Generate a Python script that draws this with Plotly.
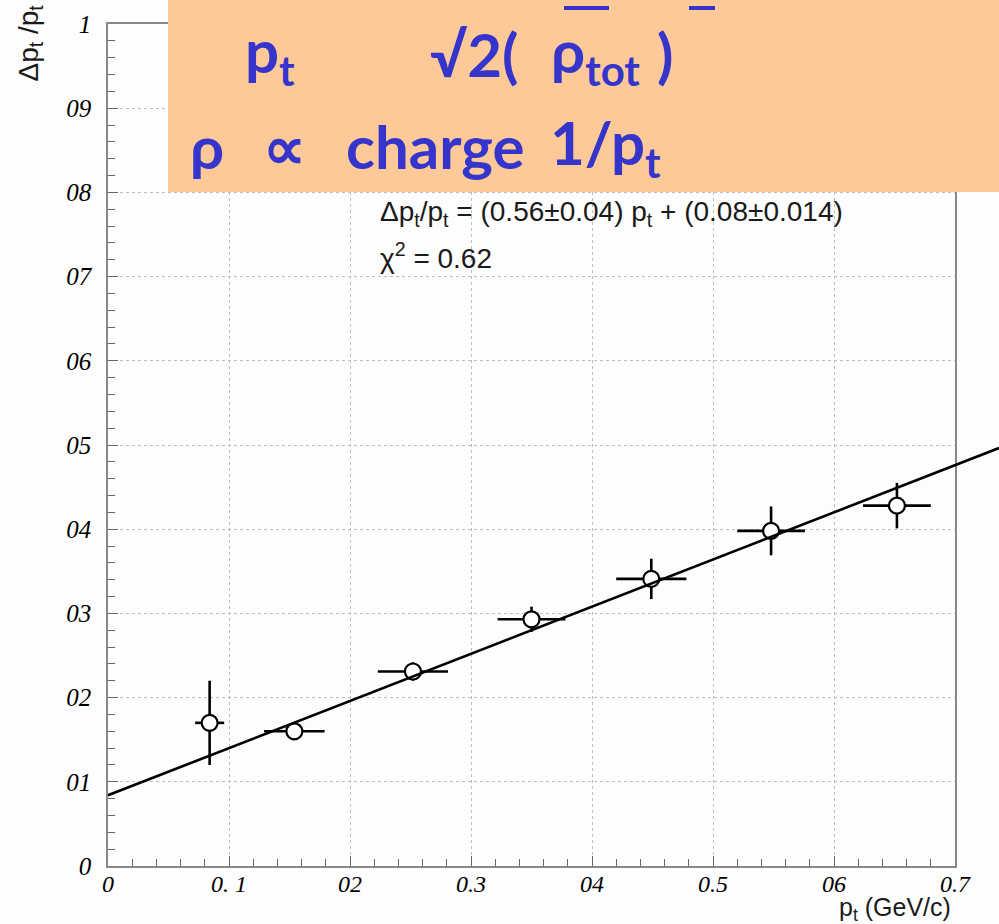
import plotly.graph_objects as go

# ---- data ----
pt = [0.084, 0.154, 0.252, 0.350, 0.449, 0.548, 0.652]
res = [0.170, 0.160, 0.231, 0.293, 0.341, 0.398, 0.428]
pt_err = [0.012, 0.025, 0.029, 0.028, 0.029, 0.028, 0.028]
res_err = [0.050, 0.004, 0.011, 0.015, 0.024, 0.029, 0.027]
fit_slope = 0.56
fit_intercept = 0.084
x_tick_vals = [0.0, 0.1, 0.2, 0.3, 0.4, 0.5, 0.6, 0.7]
x_tick_text = ["0", "0. 1", "02", "0.3", "04", "0.5", "06", "0.7"]
y_tick_vals = [0.0, 0.1, 0.2, 0.3, 0.4, 0.5, 0.6, 0.7, 0.8, 0.9, 1.0]
y_tick_text = ["0", "01", "02", "03", "04", "05", "06", "07", "08", "09", "1"]

# ---- geometry ----
W, H = 999, 924
L, R, T, B = 108, 0, 24, 58
PW = W - L - R
PH = H - T - B
FRAME_RIGHT = 955
main_frac = (FRAME_RIGHT - L) / PW
x_max = 0.7
x2_max = x_max / main_frac


def px(xp):
    return (xp - L) / PW


def py(yp):
    return (H - B - yp) / PH


fit_x = [0.0, x2_max]
fit_y = [fit_intercept + fit_slope * v for v in fit_x]

fig = go.Figure()
fig.add_trace(go.Scatter(
    x=pt, y=res, mode="markers",
    marker=dict(symbol="circle", size=16, color="white",
                line=dict(color="black", width=2.2)),
    error_x=dict(type="data", array=pt_err, color="black", thickness=2.6, width=0),
    error_y=dict(type="data", array=res_err, color="black", thickness=2.6, width=0),
    showlegend=False, xaxis="x", yaxis="y",
))
fig.add_trace(go.Scatter(
    x=fit_x, y=fit_y, mode="lines",
    line=dict(color="black", width=2.6),
    showlegend=False, xaxis="x2", yaxis="y2",
))

axis_common = dict(
    ticks="inside", ticklen=10, tickwidth=1, tickcolor="#666",
    showline=True, linecolor="#888", linewidth=1.5, mirror=True,
    showgrid=True, gridcolor="#bdbdbd", griddash="dot", gridwidth=1,
    zeroline=False, automargin=False,
)

fig.update_layout(
    width=W, height=H, autosize=False,
    margin=dict(l=L, r=R, t=T, b=B, pad=0, autoexpand=False),
    paper_bgcolor="#fdfdfd", plot_bgcolor="rgba(0,0,0,0)",
    xaxis=dict(domain=[0, main_frac], range=[0, x_max],
               tickvals=x_tick_vals, ticktext=x_tick_text,
               tickfont=dict(family="Liberation Serif", size=24, color="black",
                             style="italic"),
               minor=dict(ticks="inside", ticklen=7, tickcolor="#666",
                          tick0=0, dtick=0.02, showgrid=False),
               ticklabelstandoff=-5, **axis_common),
    yaxis=dict(domain=[0, 1], range=[0, 1],
               tickvals=y_tick_vals, ticktext=y_tick_text,
               tickfont=dict(family="Liberation Serif", size=25, color="black",
                             style="italic"),
               minor=dict(ticks="inside", ticklen=7, tickcolor="#666",
                          tick0=0, dtick=0.02, showgrid=False),
               ticklabelstandoff=10, **axis_common),
    xaxis2=dict(domain=[0, 1], range=[0, x2_max], anchor="y2",
                visible=False, showgrid=False, zeroline=False, automargin=False),
    yaxis2=dict(domain=[0, 1], range=[0, 1], anchor="x2",
                visible=False, showgrid=False, zeroline=False, automargin=False),
)

# orange overlay box
fig.add_shape(type="rect", xref="paper", yref="paper",
              x0=px(168), x1=px(1010), y0=py(192), y1=py(-10),
              fillcolor="#fdc998", line=dict(width=0), layer="above")
blue = "#3535cc"
for x0, x1 in [(564, 609), (689, 715)]:
    fig.add_shape(type="line", xref="paper", yref="paper",
                  x0=px(x0), x1=px(x1), y0=py(8), y1=py(8),
                  line=dict(color=blue, width=4), layer="above")

box_font = dict(family="Comic Sans MS, Lato", size=60, color=blue)
box_items = [
    ("<b>p<sub>t</sub></b>", 243, 54),
    ("<b>√2(</b>", 428, 54),
    ("<b>ρ<sub>tot</sub></b>", 549, 54),
    ("<b>)</b>", 655, 54),
    ("<b>ρ</b>", 188, 146),
    ("<b>∝</b>", 261, 146),
    ("<b>charge</b>", 344, 146),
    ("<b>1/p<sub>t</sub></b>", 548, 146),
]
for txt, xp, yp in box_items:
    fig.add_annotation(text=txt, xref="paper", yref="paper", x=px(xp), y=py(yp),
                       xanchor="left", yanchor="middle", showarrow=False,
                       font=box_font)

label_font = dict(family="Liberation Sans", size=28, color="#1a1a1a")
fig.add_annotation(
    text="Δp<sub>t</sub>/p<sub>t</sub> = (0.56±0.04) p<sub>t</sub> + (0.08±0.014)",
    xref="paper", yref="paper", x=px(378), y=py(214), xanchor="left",
    yanchor="middle", showarrow=False, font=label_font)
fig.add_annotation(
    text="χ<sup>2</sup> = 0.62",
    xref="paper", yref="paper", x=px(378), y=py(256), xanchor="left",
    yanchor="middle", showarrow=False, font=label_font)
fig.add_annotation(
    text="p<sub>t</sub> (GeV/c)",
    xref="paper", yref="paper", x=px(953), y=py(909), xanchor="right",
    yanchor="middle", showarrow=False,
    font=dict(family="Liberation Sans", size=25, color="#1a1a1a"))
fig.add_annotation(
    text="Δp<sub>t</sub> /p<sub>t</sub>",
    xref="paper", yref="paper", x=px(30), y=py(84), xanchor="center",
    yanchor="bottom", textangle=-90, showarrow=False,
    font=dict(family="Liberation Sans", size=28, color="#1a1a1a"))

fig.write_html("out.html", config={"responsive": False})
